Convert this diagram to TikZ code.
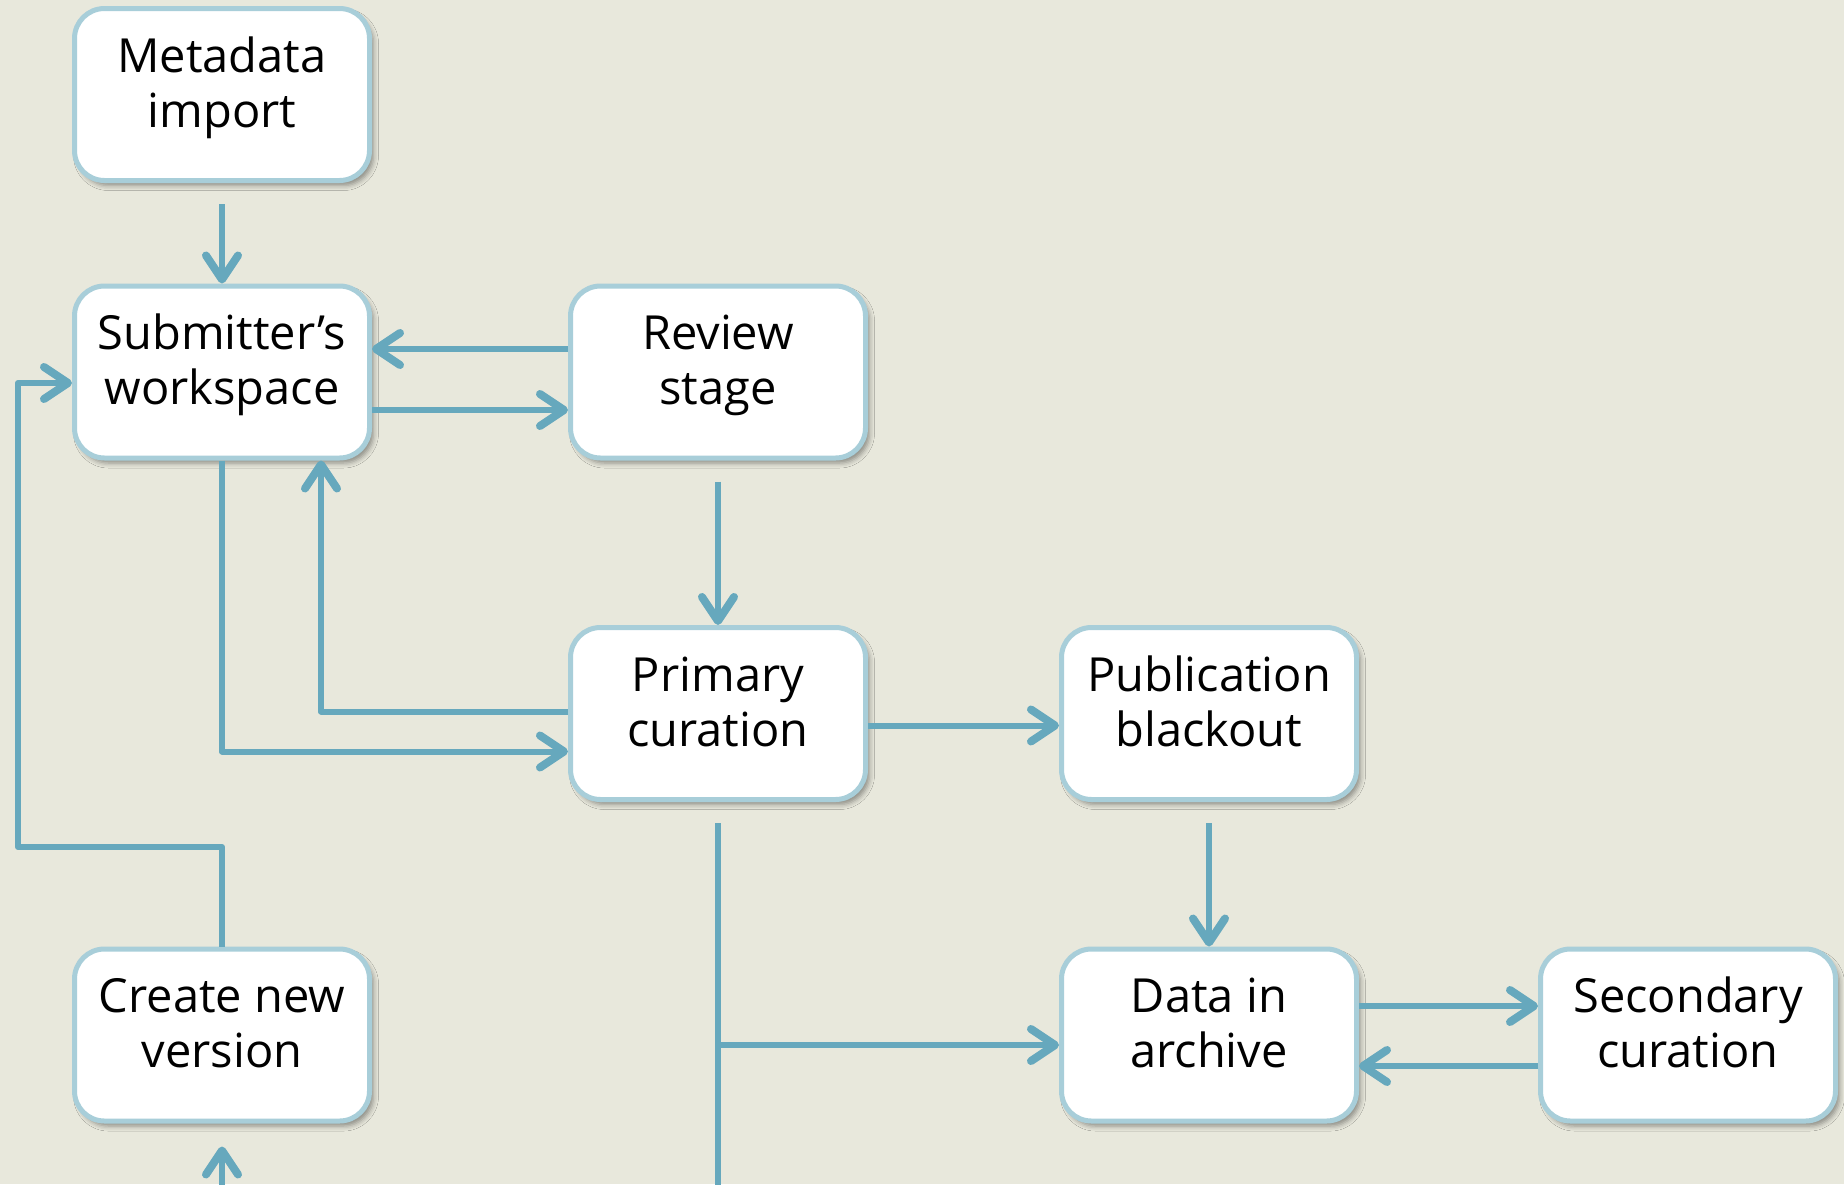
\documentclass[tikz,border=0pt]{standalone}
\usepackage{fontspec}
\setmainfont{Open Sans}
\usetikzlibrary{arrows.meta,shadows.blur,calc}
\definecolor{bgc}{RGB}{232,232,220}
\definecolor{edgec}{RGB}{168,206,217}
\definecolor{linec}{RGB}{102,168,189}
\tikzset{
 stepbox/.style={draw=edgec, line width=5pt, fill=white, rounded corners=30pt,
   minimum width=295pt, minimum height=172pt, inner sep=0pt,
   blur shadow={shadow xshift=4pt, shadow yshift=-5pt, shadow blur radius=5pt, shadow opacity=40}},
 lbl/.style={align=center, font=\fontsize{47}{55}\selectfont, inner sep=0pt, yshift=6pt},
 plainline/.style={draw=linec, line width=6pt, line join=round},
 conn/.style={plainline, -{Straight Barb[length=24pt,width=32pt,line width=8pt,round]}},
}
\begin{document}
\begin{tikzpicture}[x=1pt,y=-1pt]
\fill[bgc] (0,0) rectangle (1844,1184);
\useasboundingbox (0,0) rectangle (1844,1184);

% boxes
\node[stepbox] (meta)   at (222,94.5) {};
\node[stepbox] (sub)    at (222,372)  {};
\node[stepbox] (rev)    at (718,372)  {};
\node[stepbox] (prim)   at (718,713.5) {};
\node[stepbox] (pub)    at (1209,713.5) {};
\node[stepbox] (create) at (222,1035) {};
\node[stepbox] (data)   at (1209,1035) {};
\node[stepbox] (sec)    at (1688,1035) {};

% labels
\node[lbl] (metaT)   at (meta.center)   {\strut Metadata\\import\strut};
\node[lbl] (subT)    at (sub.center)    {\strut Submitter’s\\workspace\strut};
\node[lbl] (revT)    at (rev.center)    {\strut Review\\stage\strut};
\node[lbl] (primT)   at (prim.center)   {\strut Primary\\curation\strut};
\node[lbl] (pubT)    at (pub.center)    {\strut Publication\\blackout\strut};
\node[lbl] (createT) at (create.center) {\strut Create new\\version\strut};
\node[lbl] (dataT)   at (data.center)   {\strut Data in\\archive\strut};
\node[lbl] (secT)    at (sec.center)    {\strut Secondary\\curation\strut};

% free coordinates
\coordinate (loopL) at (18,847);
\coordinate (botA) at (718,1192);
\coordinate (botB) at (222,1192);
\coordinate (dIn) at ([yshift=-10pt]data.west);

% connectors
\draw[conn] ([yshift=-21pt]meta.south) -- (sub.north);
\draw[conn] ([yshift=23pt]rev.west) -- ([yshift=23pt]sub.east);
\draw[conn] ([yshift=-38pt]sub.east) -- ([yshift=-38pt]rev.west);
\draw[conn] ([yshift=-21pt]rev.south) -- (prim.north);
\draw[conn] ([yshift=2pt]prim.west) -| ([xshift=99pt]sub.south);
\draw[conn] (sub.south) |- ([yshift=-38pt]prim.west);
\draw[conn] ([yshift=-12pt]prim.east) -- ([yshift=-12pt]pub.west);
\draw[conn] ([yshift=-21pt]pub.south) -- (data.north);
\draw[plainline] ([yshift=-21pt]prim.south) -- (botA);
\draw[conn] (prim.south |- dIn) -- (dIn);
\draw[conn] ([yshift=29pt]data.east) -- ([yshift=29pt]sec.west);
\draw[conn] ([yshift=-31pt]sec.west) -- ([yshift=-31pt]data.east);
\draw[conn] (create.north) |- (loopL) |- ([yshift=-11pt]sub.west);
\draw[conn] (botB) -- ([yshift=-23pt]create.south);
\end{tikzpicture}
\end{document}
